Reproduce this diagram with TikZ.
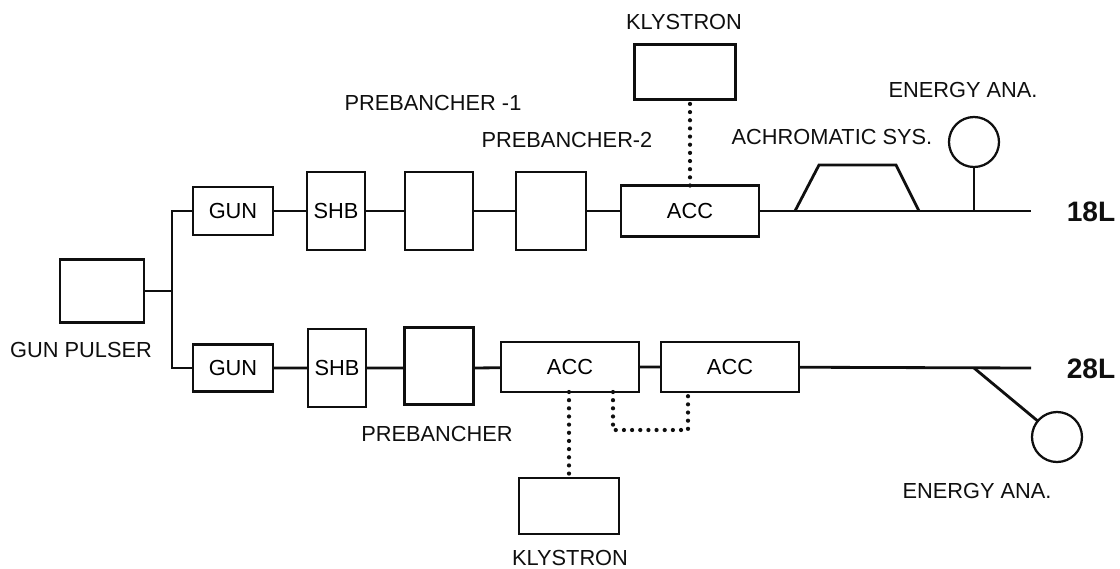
\documentclass[tikz,border=0pt]{standalone}
\usepackage{fontspec}
\setmainfont{Liberation Sans}
\usetikzlibrary{positioning,calc}
\definecolor{ink}{RGB}{15,15,15}
\tikzset{
  box/.style={draw=ink,line width=1.6pt,inner sep=0pt,outer sep=0pt,
    minimum width=#1,font=\fontsize{15.5}{17}\selectfont},
  box/.default=2cm,
  beam/.style={draw=ink,line width=2pt},
  rf/.style={draw=ink,line width=3pt,line cap=round,dash pattern=on 0pt off 5.8pt},
  lbl/.style={font=\fontsize{15.5}{17}\selectfont,text=ink,inner sep=0pt},
  line/.style={font=\fontsize{20}{22}\selectfont\bfseries,text=ink,inner sep=0pt},
  ana/.style={circle,draw=ink,line width=1.6pt,minimum size=1.25cm,inner sep=0pt,outer sep=0pt},
}

\begin{document}
\begin{tikzpicture}[x=0.025cm,y=-0.025cm]
  \useasboundingbox (0,0) rectangle (1120,568);
  % gun pulser and the two branches
  \node[box=2.1cm,minimum height=1.575cm] (pulser) at (102,291) {};
  \node[lbl] (pulserlbl) at (81,350) {GUN PULSER};
  \coordinate (split) at (172,291);

  % 18L line
  \node[box=2cm,minimum height=1.2cm] (gunA) at (233,211) {GUN};
  \node[box=1.45cm,minimum height=1.95cm] (shbA) at (336,211) {SHB};
  \node[box=1.7cm,minimum height=1.95cm] (preA1) at (439,211) {};
  \node[box=1.75cm,minimum height=1.95cm] (preA2) at (551,211) {};
  \node[box=3.45cm,minimum height=1.275cm] (accA) at (690,211) {ACC};
  \node[box=2.525cm,minimum height=1.375cm] (klyA) at (685,72) {};
  \node[ana] (eaA) at (974,142) {};
  \coordinate (endA) at (1031,211);
  \node[lbl] (klyAlbl) at (684,22) {KLYSTRON};
  \node[lbl] (preA1lbl) at (433,103) {PREBANCHER -1};
  \node[lbl] (preA2lbl) at (567,140) {PREBANCHER-2};
  \node[lbl] (achrlbl) at (832,137) {ACHROMATIC SYS.};
  \node[lbl] (eaAlbl) at (963,90) {ENERGY ANA.};
  \node[line] (lineA) at (1091,212) {18L};

  % 28L line
  \node[box=2cm,minimum height=1.175cm] (gunB) at (233,368) {GUN};
  \node[box=1.45cm,minimum height=1.95cm] (shbB) at (337,368) {SHB};
  \node[box=1.725cm,minimum height=1.925cm] (preB) at (439,366) {};
  \node[box=3.45cm,minimum height=1.25cm] (accB1) at (570,367) {ACC};
  \node[box=3.45cm,minimum height=1.25cm] (accB2) at (730,367) {ACC};
  \node[box=2.5cm,minimum height=1.4cm] (klyB) at (569,506) {};
  \node[ana] (eaB) at (1057,437) {};
  \coordinate (endB) at (1031,368);
  \coordinate (tapB) at (974,368);
  \node[lbl] (preBlbl) at (437,434) {PREBANCHER};
  \node[lbl] (klyBlbl) at (570,558) {KLYSTRON};
  \node[lbl] (eaBlbl) at (977,491) {ENERGY ANA.};
  \node[line] (lineB) at (1091,369) {28L};

  % beam lines
  \draw[beam] (pulser.east |- split) -- (split);
  \draw[beam] (gunA.west) -| (split) |- (gunB.west);
  \draw[beam] (gunA) -- (shbA) -- (preA1) -- (preA2) -- (accA) -- (endA);
  \draw[beam] (gunB) -- (shbB) -- (preB.west |- gunB) (preB.east |- gunB) -- (accB1) -- (accB2) -- (endB);
  \draw[beam] (795,211) -- (819,165) -- (896,165) -- (919,211);
  \draw[beam] (eaA) -- (eaA |- endA);
  \draw[beam] (tapB) -- (eaB);

  % rf feeds
  \draw[rf] (accA.north) -- (accA.north |- klyA.south);
  \draw[rf] (accB1.south -| klyB) -- (klyB.north);
  \draw[rf] (accB1.south -| 613,0) -- ++(0,38) -| (accB2.south -| 688,0);
\end{tikzpicture}
\end{document}
